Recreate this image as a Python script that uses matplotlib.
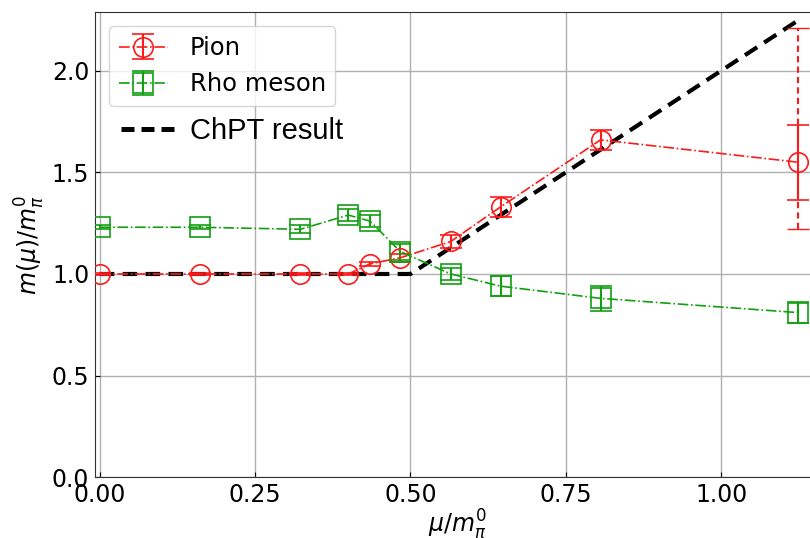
import numpy as np
import matplotlib
matplotlib.use("Agg")
from matplotlib import pyplot as plt
from matplotlib.lines import Line2D

# chemical potential in units of m_pi^0
mu = [0.0, 0.161, 0.323, 0.40, 0.435, 0.484, 0.565, 0.645, 0.806, 1.124]

pion_m = [1.00, 1.00, 1.00, 1.00, 1.05, 1.08, 1.16, 1.33, 1.66, 1.55]
pion_err = [0.005, 0.005, 0.005, 0.005, 0.01, 0.02, 0.03, 0.05, 0.05, 0.185]
# dashed outer (asymmetric) error on the last point: down, up
pion_sys_lo = 0.33
pion_sys_hi = 0.66

rho_m = [1.23, 1.23, 1.22, 1.29, 1.26, 1.11, 1.00, 0.94, 0.88, 0.81]
rho_err = [0.01, 0.01, 0.02, 0.03, 0.03, 0.04, 0.03, 0.05, 0.06, 0.05]

chpt_mu = [0.0, 0.5, 1.13]
chpt_m = [1.0, 1.0, 2.26]

RED = "#ff1a1a"
GREEN = "#12a012"

fig = plt.figure(figsize=(8.1, 5.38), dpi=100)
ax = fig.add_axes([0.117, 0.113, 0.896, 0.865])

ax.plot(chpt_mu, chpt_m, color="black", ls=(0, (3.5, 2)), lw=3, zorder=3)

ax.errorbar(mu, pion_m, yerr=pion_err, color=RED, ls="-.", lw=1.2,
            marker="o", ms=14, mfc="none", mew=1.2, capsize=8, elinewidth=1.5,
            label="Pion", zorder=4)
eb = ax.errorbar([mu[-1]], [pion_m[-1]], yerr=[[pion_sys_lo], [pion_sys_hi]],
                 color=RED, ls="none", capsize=8, elinewidth=1.5, zorder=4)
eb[2][0].set_linestyle((0, (3, 2)))

ax.errorbar(mu, rho_m, yerr=rho_err, color=GREEN, ls="-.", lw=1.2,
            marker="s", ms=15, mfc="none", mew=1.2, capsize=8, elinewidth=1.5,
            label="Rho meson", zorder=4)

ax.set_xlim(-0.008, 1.16)
ax.set_ylim(0.0, 2.29)
ax.set_xticks([0.0, 0.25, 0.5, 0.75, 1.0])
ax.set_yticks([0.0, 0.5, 1.0, 1.5, 2.0])
ax.tick_params(direction="in", labelsize=17, pad=4)
ax.grid(True, color="#b0b0b0", lw=1)
ax.set_axisbelow(True)
for s in ax.spines.values():
    s.set_color("#333333")

ax.set_xlabel(r"$\mu/m_\pi^0$", fontsize=17, labelpad=1)
ax.set_ylabel(r"$m(\mu)/m_\pi^0$", fontsize=17, labelpad=3)

leg = ax.legend(loc="upper left", fontsize=17.5, bbox_to_anchor=(0.0, 1.0),
                borderaxespad=0.6, handlelength=2.0, handletextpad=0.9)
ax.add_artist(leg)

chpt_handle = Line2D([], [], color="black", ls=(0, (2.6, 1.4)), lw=3.6)
ax.legend([chpt_handle], ["ChPT result"], loc="upper left",
          bbox_to_anchor=(0.0, 0.83), frameon=False, handlelength=1.85,
          handletextpad=0.5, prop={"family": "Liberation Sans", "size": 21})

fig.savefig("out.png", dpi=100)
